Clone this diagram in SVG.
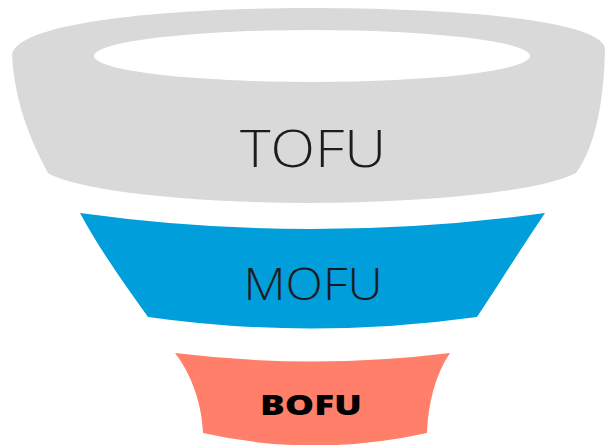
<svg xmlns="http://www.w3.org/2000/svg" width="606" height="445" viewBox="0 0 606 445">
  <style>
    .label { font-family: "Open Sans", "Liberation Sans", sans-serif; fill: #1c1c1c; text-anchor: middle; }
    .thin { font-weight: 300; }
    .heavy { font-weight: 800; fill: #000; }
  </style>
  <rect width="606" height="445" fill="#ffffff"/>

  <!-- Top of funnel -->
  <g id="tofu">
    <path d="M12,54 C20,20 180,8 310,8 C440,8 598,18 605,48 C604,100 596,145 576,173 C540,192 420,203 310,203 C200,203 80,192 48,173 C30,140 14,100 12,54 Z" fill="#d9d9d9"/>
    <ellipse cx="312" cy="56" rx="218" ry="26" fill="#ffffff"/>
    <text class="label thin" x="313" y="167" font-size="52" textLength="146" lengthAdjust="spacingAndGlyphs">TOFU</text>
  </g>

  <!-- Middle of funnel -->
  <g id="mofu">
    <path d="M80,213 Q310,245 545,213 C520,250 495,290 477,317 Q310,340 148,317 C125,285 100,250 80,213 Z" fill="#009edb"/>
    <text class="label thin" x="313" y="300" font-size="44" textLength="139" lengthAdjust="spacingAndGlyphs">MOFU</text>
  </g>

  <!-- Bottom of funnel -->
  <g id="bofu">
    <path d="M175,353 Q313,370 450,353 C435,375 428,405 427,433 Q313,458 203,433 C202,405 192,375 175,353 Z" fill="#ff7f6a"/>
    <text class="label heavy" x="311" y="415" font-size="28" textLength="102" lengthAdjust="spacingAndGlyphs">BOFU</text>
  </g>
</svg>
